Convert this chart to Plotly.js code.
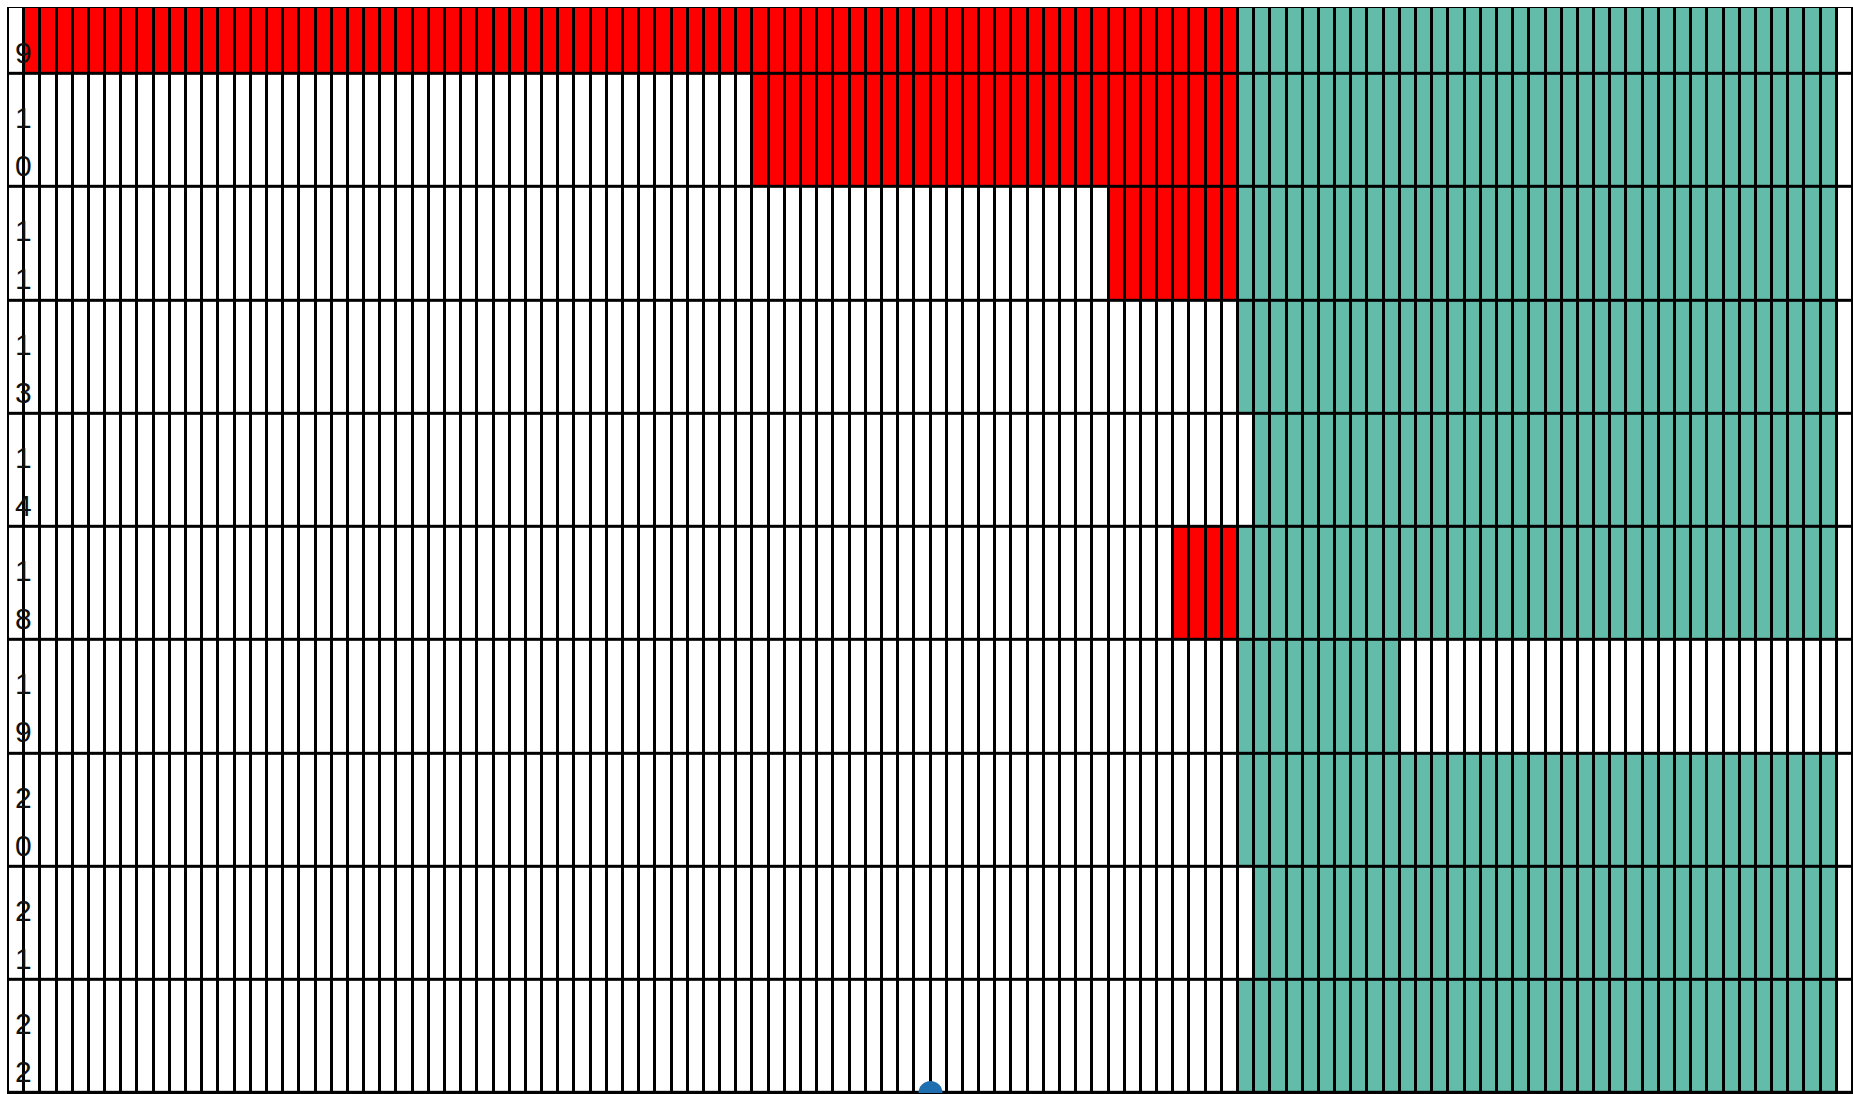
<!DOCTYPE html>
<html>
<head>
<meta charset="utf-8">
<script src="https://cdn.plot.ly/plotly-3.0.1.min.js"></script>
<style>
  html, body { margin: 0; padding: 0; background: #ffffff; overflow: hidden; }
  #chart { width: 1853px; height: 1094px; }
</style>
</head>
<body>
<div id="chart"></div>
<script>
// ---- data ----
const rowLabels = ['9', '10', '11', '13', '14', '18', '19', '20', '21', '22'];
const nCols = 114;
// red block per row (column indices, inclusive); null = no red
const redStart = [1, 46, 68, null, null, 72, null, null, null, null];
const redEnd   = [75, 75, 75, null, null, 75, null, null, null, null];
// teal block per row (column indices, inclusive)
const tealStart = [76, 76, 76, 76, 77, 76, 76, 76, 77, 76];
const tealEnd   = [112, 112, 112, 112, 112, 112, 85, 112, 112, 112];
// marker point
const markerX = [56.5];
const markerY = [9.5];

// ---- build heatmap matrix ----
const colIdx = Array.from({length: nCols}, (_, i) => i);
const rowIdx = rowLabels.map((_, i) => i);
const z = rowLabels.map((_, r) => colIdx.map(c => {
  if (redStart[r] !== null && c >= redStart[r] && c <= redEnd[r]) return 1;
  if (c >= tealStart[r] && c <= tealEnd[r]) return 2;
  return 0;
}));

const TEAL = '#62bca9';

const traces = [
  {
    type: 'heatmap',
    x: colIdx,
    y: rowIdx,
    z: z,
    zmin: 0,
    zmax: 2,
    colorscale: [[0, '#ffffff'], [0.5, '#ff0000'], [1, TEAL]],
    showscale: false,
    xgap: 3,
    ygap: 3,
    hoverinfo: 'skip'
  },
  {
    type: 'scatter',
    mode: 'markers',
    x: markerX,
    y: markerY,
    marker: {size: 24, color: '#1f6fb0'},
    cliponaxis: false,
    hoverinfo: 'skip',
    showlegend: false
  }
];

// ---- row labels: one character per line, bottom-aligned in the first column ----
const LINE = 48;
const annotations = [];
rowLabels.forEach((lab, r) => {
  const chars = lab.split('');
  chars.forEach((ch, k) => {
    annotations.push({
      xref: 'paper', x: 0, xanchor: 'left', xshift: 5,
      yref: 'y', y: r + 0.5, yanchor: 'bottom',
      yshift: 3 + LINE * (chars.length - 1 - k),
      text: ch,
      showarrow: false,
      font: {family: 'Liberation Sans, Arial, sans-serif', size: 30, color: '#111111'}
    });
  });
});

const layout = {
  width: 1853,
  height: 1094,
  margin: {l: 8, r: 0, t: 8, b: 1, pad: 0},
  paper_bgcolor: '#ffffff',
  plot_bgcolor: '#000000',
  showlegend: false,
  xaxis: {
    range: [-0.5, nCols - 0.5],
    showgrid: false, zeroline: false, showticklabels: false, ticks: '',
    showline: true, linecolor: '#000000', linewidth: 1.5, mirror: true,
    fixedrange: true
  },
  yaxis: {
    range: [9.5, -0.083],
    showgrid: false, zeroline: false, showticklabels: false, ticks: '',
    showline: true, linecolor: '#000000', linewidth: 1.5, mirror: true,
    fixedrange: true
  },
  annotations: annotations
};

Plotly.newPlot('chart', traces, layout, {displayModeBar: false, staticPlot: true});
</script>
</body>
</html>
